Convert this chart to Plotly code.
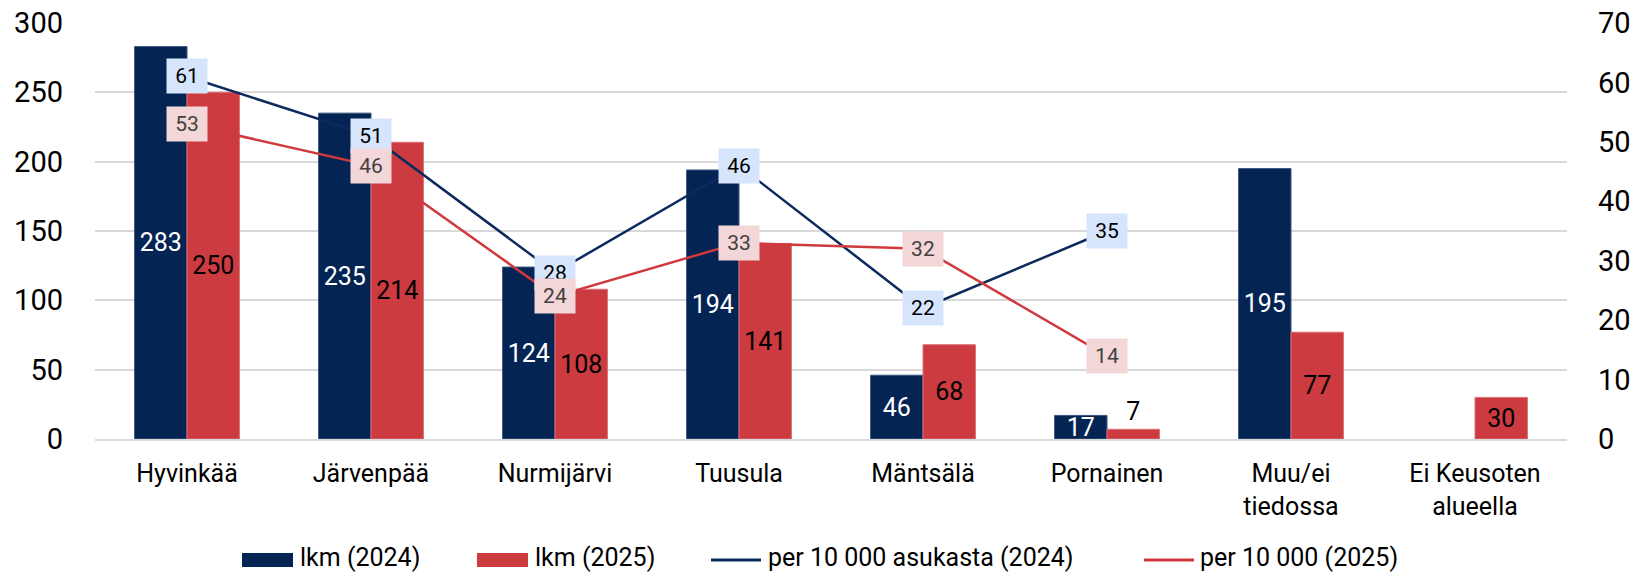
import plotly.graph_objects as go

categories = ["Hyvinkää", "Järvenpää", "Nurmijärvi", "Tuusula", "Mäntsälä",
              "Pornainen", "Muu/ei<br>tiedossa", "Ei Keusoten<br>alueella"]
lkm_2024 = [283, 235, 124, 194, 46, 17, 195, None]
lkm_2025 = [250, 214, 108, 141, 68, 7, 77, 30]
per10k_2024 = [61, 51, 28, 46, 22, 35, None, None]
per10k_2025 = [53, 46, 24, 33, 32, 14, None, None]
series_names = ["lkm (2024)", "lkm (2025)", "per 10 000 asukasta (2024)", "per 10 000 (2025)"]

NAVY = "#042454"
RED = "#cb3b40"
LINE_NAVY = "#0b2a5e"
LINE_RED = "#d03a3e"
FONT = "Roboto"

# the page body has an 8px margin; figure is sized so its plot area lands
# where the original's does in the 1647x577 window
OFF = 8
W, H = 1647 - OFF, 577 - OFF
PLOT_L, PLOT_R, PLOT_T, PLOT_B = 95 - OFF, 1567 - OFF, 23 - OFF, 439 - OFF
ML, MR, MT, MB = PLOT_L, W - PLOT_R, PLOT_T, H - PLOT_B
PW, PH = W - ML - MR, H - MT - MB


def px_x(p):
    return (p - OFF - ML) / PW


def px_y(p):
    return (H - MB - (p - OFF)) / PH


def bar_text(vals):
    return ["" if v is None else str(v) for v in vals]


def bar_pos(vals):
    return ["outside" if (v is not None and v < 12) else "inside" for v in vals]


fig = go.Figure()
fig.add_trace(go.Bar(
    x=categories, y=lkm_2024, name=series_names[0], marker_color=NAVY,
    marker_line=dict(color="#3a5580", width=1),
    text=bar_text(lkm_2024), textposition=bar_pos(lkm_2024),
    insidetextanchor="middle", textangle=0,
    insidetextfont=dict(color="white", size=25, family=FONT),
    outsidetextfont=dict(color="black", size=25, family=FONT),
    cliponaxis=False, showlegend=False,
))
fig.add_trace(go.Bar(
    x=categories, y=lkm_2025, name=series_names[1], marker_color=RED,
    marker_line=dict(color="#dc7074", width=1),
    text=bar_text(lkm_2025), textposition=bar_pos(lkm_2025),
    insidetextanchor="middle", textangle=0,
    insidetextfont=dict(color="black", size=25, family=FONT),
    outsidetextfont=dict(color="black", size=25, family=FONT),
    cliponaxis=False, showlegend=False,
))
fig.add_trace(go.Scatter(
    x=categories, y=per10k_2024, name=series_names[2],
    mode="lines", line=dict(color=LINE_NAVY, width=2.5), yaxis="y2", showlegend=False,
))
fig.add_trace(go.Scatter(
    x=categories, y=per10k_2025, name=series_names[3],
    mode="lines", line=dict(color=LINE_RED, width=2.5), yaxis="y2", showlegend=False,
))

annotations = []
for cat, v in zip(categories, per10k_2024):
    if v is None:
        continue
    annotations.append(dict(x=cat, y=v, xref="x", yref="y2", text=str(v),
                            showarrow=False, bgcolor="#d6e5fb", width=32, height=26,
                            borderpad=4, font=dict(size=21, color="black", family=FONT)))
for cat, v in zip(categories, per10k_2025):
    if v is None:
        continue
    annotations.append(dict(x=cat, y=v, xref="x", yref="y2", text=str(v),
                            showarrow=False, bgcolor="#f3d6d7", width=32, height=26,
                            borderpad=4, font=dict(size=21, color="#404040", family=FONT)))

# manual legend (to match the original spacing); positions in window pixels
legend_sym_y = 560
legend_txt_y = 557
legend_items = [
    (242, "rect", NAVY, 298),
    (477, "rect", RED, 533),
    (711, "line", LINE_NAVY, 766),
    (1144, "line", LINE_RED, 1198),
]
shapes = []
for (sx, kind, col, tx), name in zip(legend_items, series_names):
    if kind == "rect":
        shapes.append(dict(type="rect", xref="paper", yref="paper",
                           x0=px_x(sx), x1=px_x(sx + 51),
                           y0=px_y(legend_sym_y + 7), y1=px_y(legend_sym_y - 7),
                           fillcolor=col, line=dict(width=0)))
    else:
        shapes.append(dict(type="line", xref="paper", yref="paper",
                           x0=px_x(sx), x1=px_x(sx + 50),
                           y0=px_y(legend_sym_y), y1=px_y(legend_sym_y),
                           line=dict(color=col, width=3)))
    annotations.append(dict(x=px_x(tx), y=px_y(legend_txt_y), xref="paper", yref="paper",
                            xanchor="left", yanchor="middle", text=name, showarrow=False,
                            font=dict(size=25, color="black", family=FONT)))

fig.update_layout(
    width=W, height=H,
    margin=dict(l=ML, r=MR, t=MT, b=MB, pad=0),
    paper_bgcolor="white", plot_bgcolor="white",
    font=dict(family=FONT, color="black"),
    barmode="group", bargap=0.43, bargroupgap=0,
    uniformtext=dict(minsize=25, mode="show"),
    showlegend=False,
    xaxis=dict(type="category", showgrid=False, ticks="", tickfont=dict(size=25),
               showline=True, linecolor="#d9d9d9", linewidth=2, ticklabelstandoff=11,
               automargin=False),
    yaxis=dict(range=[0, 300], dtick=50, showgrid=True, gridcolor="#d9d9d9", gridwidth=2,
               zeroline=False, tickfont=dict(size=29), ticks="", ticklabelstandoff=31,
               automargin=False, ticklabeloverflow="allow"),
    yaxis2=dict(range=[0, 70], dtick=10, overlaying="y", side="right", showgrid=False,
                zeroline=False, tickfont=dict(size=29), ticks="", ticklabelstandoff=30,
                automargin=False, ticklabeloverflow="allow"),
    annotations=annotations,
    shapes=shapes,
)

fig.write_html("out.html")
